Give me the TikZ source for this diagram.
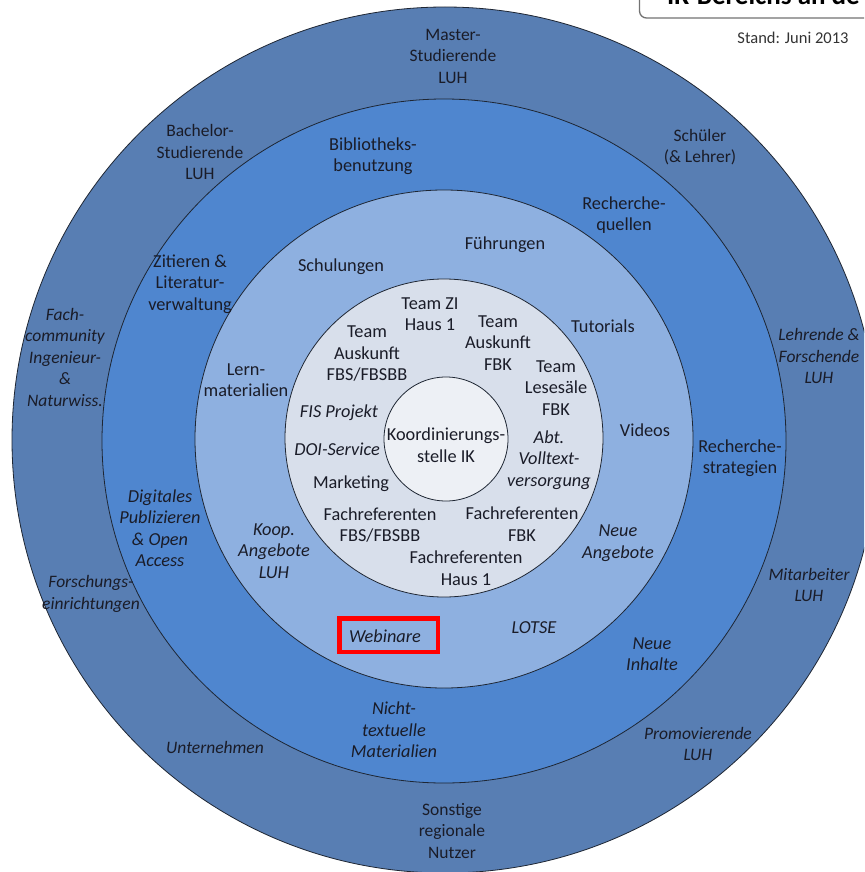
\documentclass[tikz,border=0pt]{standalone}
\usepackage{fontspec}
\setmainfont{Carlito}
\definecolor{cA}{HTML}{587EB3}
\definecolor{cB}{HTML}{4F86CF}
\definecolor{cC}{HTML}{8EB0E0}
\definecolor{cD}{HTML}{D8DFEB}
\definecolor{cE}{HTML}{EDF0F5}
\definecolor{ringline}{HTML}{1E2633}
\definecolor{txt}{HTML}{1A1C28}
\definecolor{boxred}{HTML}{FF0000}
\begin{document}
\begin{tikzpicture}[x=1pt,y=-1pt,
  ring/.style={draw=ringline,line width=0.8pt},
  lbl/.style={align=center,text=txt,inner sep=0pt,font=\fontsize{18.3}{21.5}\selectfont},
  ilbl/.style={align=center,text=txt,inner sep=0pt,font=\fontsize{18.3}{21.5}\selectfont\itshape},
  olbl/.style={align=center,text=txt,inner sep=0pt,font=\fontsize{17.5}{21.5}\selectfont},
  oilbl/.style={align=center,text=txt,inner sep=0pt,font=\fontsize{17.5}{21.5}\selectfont\itshape}]
\useasboundingbox (0,0) rectangle (864,872);
\clip (0,0) rectangle (864,872);
\fill[white] (0,0) rectangle (864,872);
% title box
\draw[rounded corners=7pt,draw=black!55,line width=1.3pt,fill=white] (639.5,-40) rectangle (920,18);
\node (title) [anchor=base west,inner sep=0pt,text=black,font=\bfseries\fontsize{27}{30}\selectfont] at (667,5) {IK-Bereichs an de};
\node (stand) [olbl,text=black!80,font=\fontsize{16.5}{20}\selectfont] at (793,38) {Stand: Juni 2013};
% rings
\path[ring,fill=cA] (445,440) circle[radius=433pt];
\path[ring,fill=cB] (444,441) circle[radius=342pt];
\path[ring,fill=cC] (444,439) circle[radius=249pt];
\path[ring,fill=cD] (444,438) circle[radius=159pt];
\path[ring,fill=cE] (446,439) circle[radius=62pt];
% outer ring
\node (master) [olbl] at (453,56) {Master-\\Studierende\\LUH};
\node (bachelor) [olbl] at (200,152) {Bachelor-\\Studierende\\LUH};
\node (schueler) [olbl] at (700,147) {Schüler\\(\& Lehrer)};
\node (lehrende) [oilbl] at (819,356) {Lehrende \&\\Forschende\\LUH};
\node (mitarbeiter) [oilbl] at (809,585) {Mitarbeiter\\LUH};
\node (promo) [oilbl] at (698,744) {Promovierende\\LUH};
\node (sonstige) [olbl] at (452,831) {Sonstige\\regionale\\Nutzer};
\node (unternehmen) [oilbl] at (215,747) {Unternehmen};
\node (forschung) [oilbl] at (91,594) {Forschungs-\\einrichtungen};
\node (fach) [oilbl] at (65,357) {Fach-\\community\\Ingenieur-\\\&\\Naturwiss.};
% ring 2
\node (biblio) [lbl] at (373,156) {Bibliotheks-\\benutzung};
\node (rquellen) [lbl] at (624,215) {Recherche-\\quellen};
\node (zitieren) [lbl] at (190,284) {Zitieren \&\\Literatur-\\verwaltung};
\node (rstrat) [lbl] at (740,458) {Recherche-\\strategien};
\node (digital) [ilbl] at (160,528) {Digitales\\Publizieren\\\& Open\\Access};
\node (nicht) [ilbl] at (394,730) {Nicht-\\textuelle\\Materialien};
\node (ninhalte) [ilbl] at (652,654) {Neue\\Inhalte};
% ring 3
\node (schulungen) [lbl] at (341,267) {Schulungen};
\node (fuehrungen) [lbl] at (505,245) {Führungen};
\node (tutorials) [lbl] at (603,326) {Tutorials};
\node (videos) [lbl] at (645,430) {Videos};
\node (lern) [lbl] at (246,380) {Lern-\\materialien};
\node (koop) [ilbl] at (274,551) {Koop.\\Angebote\\LUH};
\node (nangebote) [ilbl] at (618,543) {Neue\\Angebote};
\node (lotse) [ilbl] at (534,628) {LOTSE};
\node (webbox) [draw=boxred,line width=4.5pt,minimum width=98.5pt,minimum height=33.5pt,inner sep=0pt] at (388.5,635) {};
\node (webinare) [ilbl] at (385,636) {Webinare};
% ring 4
\node (teamzi) [lbl] at (430,314) {Team ZI\\Haus 1};
\node (teamfbs) [lbl] at (367,354) {Team\\Auskunft\\FBS/FBSBB};
\node (teamfbk) [lbl] at (498,343) {Team\\Auskunft\\FBK};
\node (teamlese) [lbl] at (556,388) {Team\\Lesesäle\\FBK};
\node (fis) [ilbl] at (339,413) {FIS Projekt};
\node (doi) [ilbl] at (337,449) {DOI-Service};
\node (abt) [ilbl] at (549,460) {Abt.\\Volltext-\\versorgung};
\node (marketing) [lbl] at (351,484) {Marketing};
\node (frfbs) [lbl] at (380,525) {Fachreferenten\\FBS/FBSBB};
\node (frfbk) [lbl] at (522,524) {Fachreferenten\\FBK};
\node (frhaus) [lbl] at (466,568) {Fachreferenten\\Haus 1};
% centre
\node (koord) [lbl] at (446,445) {Koordinierungs-\\stelle IK};
\end{tikzpicture}
\end{document}
